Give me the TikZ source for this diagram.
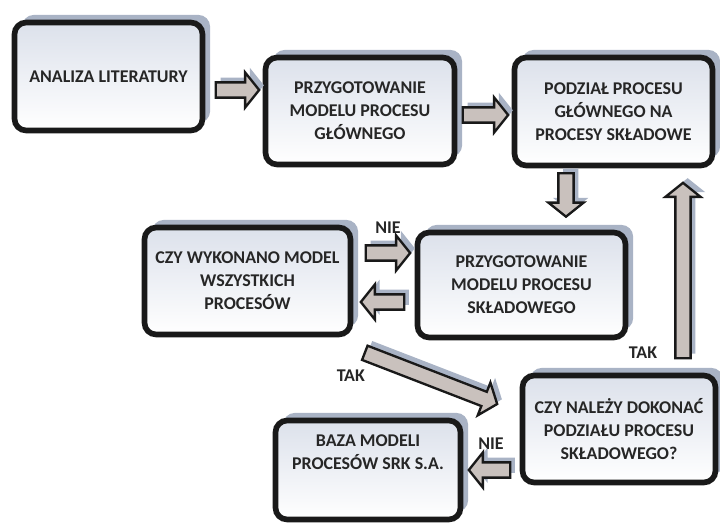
\documentclass[tikz,border=0pt]{standalone}
\usepackage{fontspec}
\setmainfont{Carlito}
\usepackage{tikz}
\usetikzlibrary{calc,shadows}
\definecolor{inktext}{HTML}{262626}
\definecolor{boxtop}{HTML}{DCE1EB}
\definecolor{shadowblue}{HTML}{A9B3C5}
\definecolor{arrowfill}{HTML}{C9C1BD}
\newcommand{\shaftw}{6.5pt}
\newcommand{\headw}{15pt}
\newcommand{\headl}{12pt}
\tikzset{
  pbox/.style={draw=black!90, line width=4.8pt, rounded corners=10pt, top color=boxtop, bottom color=white,
    text=inktext, align=center, font=\fontsize{15.3}{19.6}\selectfont\bfseries,
    drop shadow={shadow xshift=6.5pt, shadow yshift=6.5pt, fill=shadowblue, opacity=1}},
  parrow/.style={draw=black!90, line width=2pt, fill=arrowfill,
    drop shadow={shadow xshift=4pt, shadow yshift=4pt, fill=shadowblue, opacity=1},
    to path={let \p1=($(\tikztotarget)!\headl!(\tikztostart)$) in
      ($(\tikztostart)!\shaftw!90:(\tikztotarget)$) -- ($(\p1)!\shaftw!90:(\tikztotarget)$)
      -- ($(\p1)!\headw!90:(\tikztotarget)$) -- (\tikztotarget)
      -- ($(\p1)!\headw!-90:(\tikztotarget)$) -- ($(\p1)!\shaftw!-90:(\tikztotarget)$)
      -- ($(\tikztostart)!\shaftw!-90:(\tikztotarget)$) -- cycle}},
  plabel/.style={text=inktext, font=\fontsize{15.3}{19.6}\selectfont\bfseries, inner sep=1pt},
}

\begin{document}
\begin{tikzpicture}[x=0.03cm, y=-0.03cm]
  \useasboundingbox (0,0) rectangle (720,525);
  % process boxes
  \node[pbox, minimum width=5.64cm, minimum height=3.24cm] (anal) at (108.5,76.5) {ANALIZA LITERATURY};
  \node[pbox, minimum width=5.67cm, minimum height=3.21cm] (glow) at (360,111) {PRZYGOTOWANIE\\MODELU PROCESU\\GŁÓWNEGO};
  \node[pbox, minimum width=5.94cm, minimum height=3.24cm] (podz) at (613.5,111.5) {PODZIAŁ PROCESU\\GŁÓWNEGO NA\\PROCESY SKŁADOWE};
  \node[pbox, minimum width=6.18cm, minimum height=3.21cm] (czyw) at (247.5,281) {CZY WYKONANO MODEL\\WSZYSTKICH\\PROCESÓW};
  \node[pbox, minimum width=6.24cm, minimum height=3.15cm] (sklad) at (521.5,285) {PRZYGOTOWANIE\\MODELU PROCESU\\SKŁADOWEGO};
  \node[pbox, minimum width=5.79cm, minimum height=3.21cm] (czyn) at (619,429) {CZY NALEŻY DOKONAĆ\\PODZIAŁU PROCESU\\SKŁADOWEGO?};
  \node[pbox, minimum width=5.55cm, minimum height=2.97cm, text height=20pt, text depth=21.5pt] (baza) at (368,470) {BAZA MODELI\\PROCESÓW SRK S.A.};

  % arrow ends
  \coordinate (a1s) at ($(anal.east)+(10.5,13.5)$);
  \coordinate (a1t) at ($(glow.west)+(-3.5,-21)$);
  \coordinate (a2s) at ($(glow.east)+(5.5,4)$);
  \coordinate (a2t) at ($(podz.west)+(-3.5,3.5)$);
  \coordinate (a3s) at ($(podz.south)+(-47.5,5)$);
  \coordinate (a3t) at ($(sklad.north)+(44.5,-13)$);
  \coordinate (a4s) at ($(czyn.north)+(64,-14.5)$);
  \coordinate (a4t) at ($(podz.south)+(69.5,14.5)$);
  \coordinate (a5s) at ($(czyw.east)+(12.5,-28)$);
  \coordinate (a5t) at ($(sklad.west)+(-4.5,-32)$);
  \coordinate (a6s) at ($(sklad.west)+(-10.5,17)$);
  \coordinate (a6t) at ($(czyw.east)+(7.5,21)$);
  \coordinate (a7s) at ($(czyw.south east)+(11.5,15.5)$);
  \coordinate (a7t) at ($(czyn.west)+(-22.5,-25)$);
  \coordinate (a8s) at ($(czyn.west)+(-9.5,41)$);
  \coordinate (a8t) at ($(baza.east)+(5.5,0)$);

  \draw[parrow] (a1s) to (a1t);
  \draw[parrow] (a2s) to (a2t);
  \draw[parrow] (a3s) to (a3t);
  \draw[parrow] (a4s) to (a4t);
  \draw[parrow] (a5s) to (a5t);
  \draw[parrow] (a6s) to (a6t);
  \draw[parrow] (a7s) to (a7t);
  \draw[parrow] (a8s) to (a8t);

  % decisions
  \node[plabel] (nie1) at ($(a5s)!.5!(a5t)+(0,-25)$) {NIE};
  \node[plabel] (tak1) at ($(a4s)+(-40,-6)$) {TAK};
  \node[plabel] (tak2) at ($(a7s)+(-14,23)$) {TAK};
  \node[plabel] (nie2) at ($(a8s)!.5!(a8t)+(1.5,-26)$) {NIE};
\end{tikzpicture}
\end{document}
